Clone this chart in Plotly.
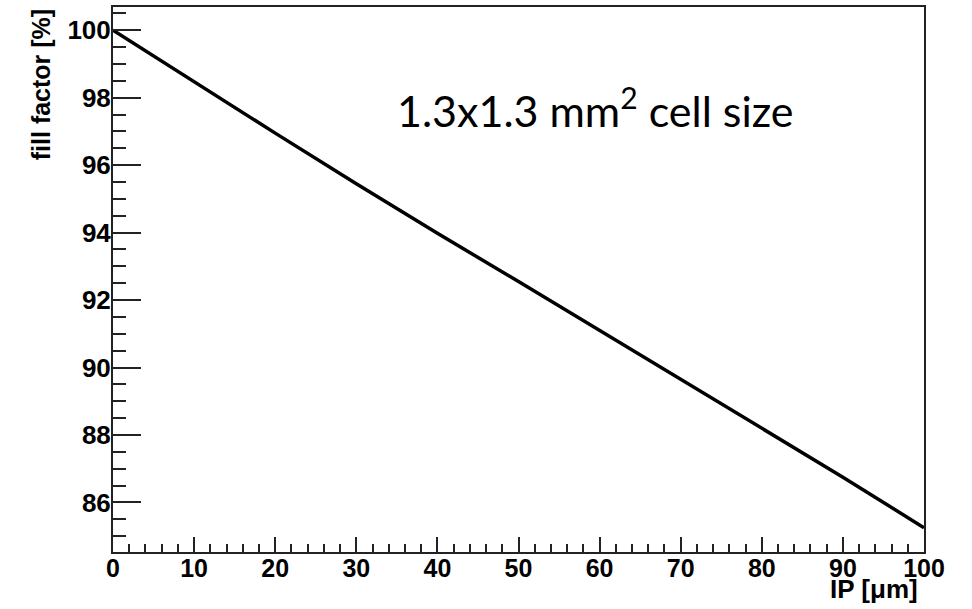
import plotly.graph_objects as go

# Fill factor versus inactive perimeter (IP) width
ip_um = [0, 10, 20, 30, 40, 50, 60, 70, 80, 90, 100]
fill_factor = [100.0, 98.47, 96.95, 95.45, 93.98, 92.55, 91.10, 89.65, 88.22, 86.75, 85.25]

x_ticks = [0, 10, 20, 30, 40, 50, 60, 70, 80, 90, 100]
y_ticks = [86, 88, 90, 92, 94, 96, 98, 100]

W, H = 972, 609
L, R, T, B = 113, 48, 5, 57
pw, ph = W - L - R, H - T - B

bold = dict(family="Liberation Sans, Arial, sans-serif", size=26, color="black", weight="bold")
frame = "#222222"

fig = go.Figure()
fig.add_trace(go.Scatter(x=ip_um, y=fill_factor, mode="lines",
                         line=dict(color="black", width=3.5), showlegend=False))

fig.update_xaxes(range=[0, 100], tickvals=x_ticks, ticks="inside", ticklen=15, tickwidth=2,
                 tickcolor=frame, showline=True, linecolor=frame, linewidth=2, mirror=True,
                 showgrid=False, zeroline=False, tickfont=dict(bold, size=25), ticklabelstandoff=-7,
                 minor=dict(dtick=2, ticks="inside", ticklen=8, tickwidth=2, tickcolor=frame))
fig.update_yaxes(range=[84.53, 100.69], tickvals=y_ticks, ticks="inside", ticklen=28, tickwidth=2,
                 tickcolor=frame, showline=True, linecolor=frame, linewidth=2, mirror=True,
                 showgrid=False, zeroline=False, tickfont=bold, ticklabelstandoff=-5,
                 minor=dict(dtick=0.5, tick0=84, ticks="inside", ticklen=13, tickwidth=2, tickcolor=frame))

fig.add_annotation(text="fill factor [%]", textangle=-90, xref="paper", yref="paper",
                   x=(41 - L) / pw, y=1 - (83.5 - T) / ph, xanchor="center", yanchor="middle",
                   showarrow=False, font=dict(bold, size=25))
fig.add_annotation(text="IP [\u03bcm]", xref="paper", yref="paper",
                   x=(874 - L) / pw, y=-(589 - (T + ph)) / ph, xanchor="center", yanchor="middle",
                   showarrow=False, font=dict(bold, size=26))
fig.add_annotation(text="1.3x1.3 mm<sup>2</sup> cell size", xref="paper", yref="paper",
                   x=(595 - L) / pw, y=1 - (106 - T) / ph, xanchor="center", yanchor="middle",
                   showarrow=False, font=dict(family="Lato, Carlito, sans-serif", size=43, color="black"))

fig.update_layout(width=W, height=H, margin=dict(l=L, r=R, t=T, b=B),
                  paper_bgcolor="white", plot_bgcolor="white")
fig.write_html("out.html")
